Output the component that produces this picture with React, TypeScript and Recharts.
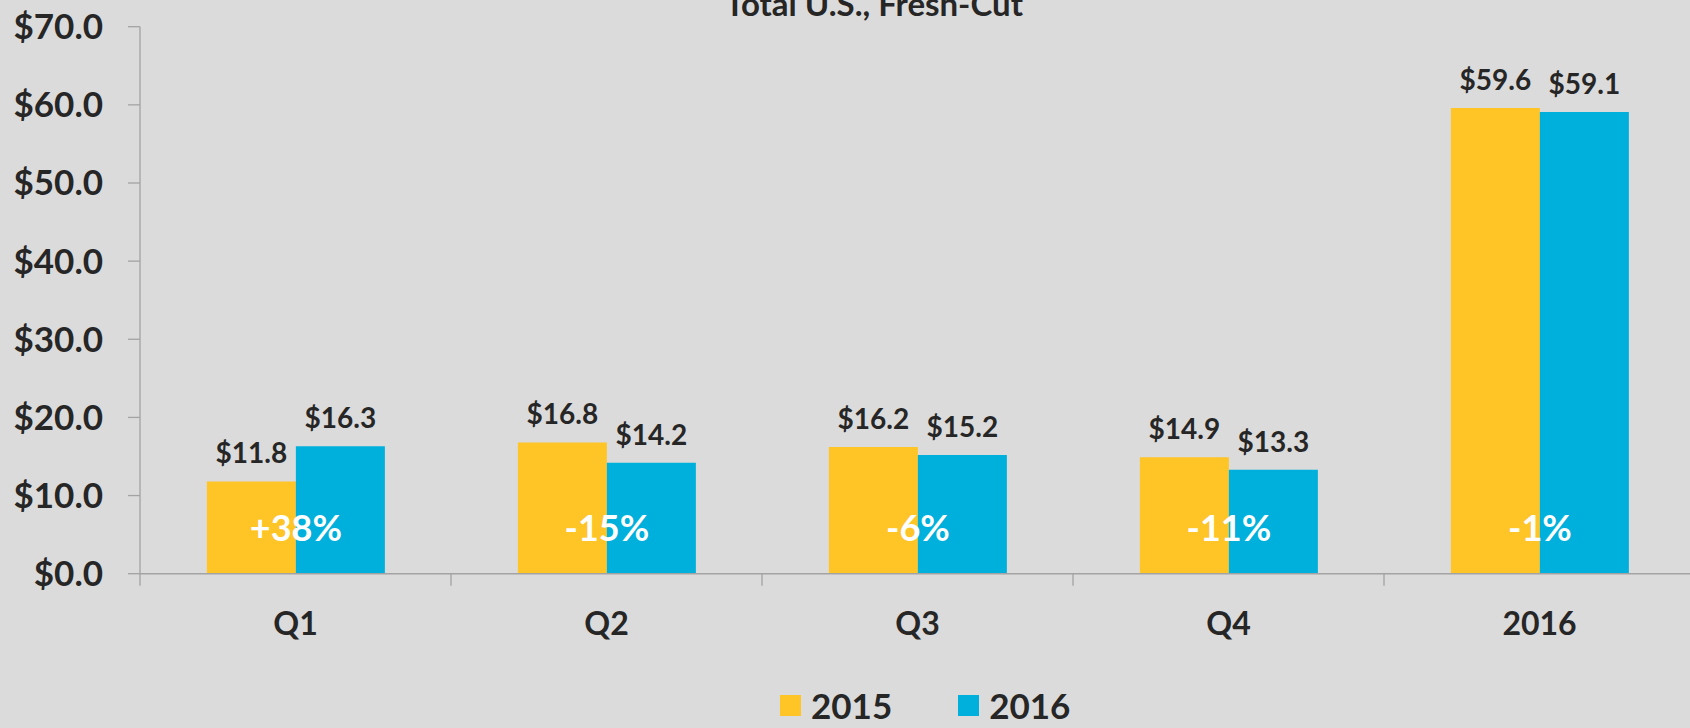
import React from 'react';
import { BarChart, Bar, XAxis, YAxis, LabelList } from 'recharts';

const categories = ['Q1', 'Q2', 'Q3', 'Q4', '2016'];
const series2015 = [11.8, 16.8, 16.2, 14.9, 59.6];
const series2016 = [16.3, 14.2, 15.2, 13.3, 59.1];
const changeLabels = ['+38%', '-15%', '-6%', '-11%', '-1%'];
const yTicks = [0, 10, 20, 30, 40, 50, 60, 70];
const seriesNames = ['2015', '2016'];
const title = 'Total U.S., Fresh-Cut';

const YELLOW = '#FFC425';
const BLUE = '#00B0DC';
const BG = '#DBDBDB';
const TEXT = '#262626';
const AXIS = '#A3A3A3';
const FONT = 'Lato, "Open Sans", sans-serif';

const data = categories.map((c, i) => ({
  name: c,
  y2015: series2015[i],
  y2016: series2016[i],
  change: changeLabels[i],
}));

const CatTick = (props: any) => {
  const { x, y, payload, index } = props;
  const half = payload && payload.offset ? payload.offset : 0;
  return (
    <g>
      <line x1={x - half} x2={x - half} y1={y} y2={y + 12} stroke={AXIS} strokeWidth={1.3} />
      {index === categories.length - 1 && (
        <line x1={x + half} x2={x + half} y1={y} y2={y + 12} stroke={AXIS} strokeWidth={1.3} />
      )}
      <text x={x} y={y + 61} textAnchor="middle" fill={TEXT} fontFamily={FONT} fontWeight={700} fontSize={32}>
        {payload.value}
      </text>
    </g>
  );
};

const ChangeLabel = (props: any) => {
  const { x, y, height, index } = props;
  return (
    <text
      x={x}
      y={y + height - 47}
      textAnchor="middle"
      dominantBaseline="central"
      fill="#FFFFFF"
      fontFamily={FONT}
      fontWeight={700}
      fontSize={36}
    >
      {changeLabels[index]}
    </text>
  );
};

export default function App() {
  return (
    <div
      style={{
        position: 'absolute',
        left: 0,
        top: 0,
        width: 1690,
        height: 728,
        overflow: 'hidden',
        background: BG,
        fontFamily: FONT,
      }}
    >
      <BarChart
        width={1700}
        height={728}
        data={data}
        margin={{ top: 26.7, right: 5, bottom: 84.3, left: 0 }}
        barCategoryGap="21.5%"
        barGap={0}
      >
        <XAxis
          dataKey="name"
          height={70}
          tickSize={0}
          tickMargin={0}
          tickLine={false}
          axisLine={{ stroke: AXIS, strokeWidth: 1.5 }}
          tick={<CatTick />}
          interval={0}
        />
        <YAxis
          width={140}
          domain={[0, 70]}
          ticks={yTicks}
          interval={0}
          tickSize={12}
          tickMargin={25}
          axisLine={{ stroke: AXIS, strokeWidth: 1.3 }}
          tickLine={{ stroke: AXIS, strokeWidth: 1.3 }}
          tick={{ fill: TEXT, fontFamily: FONT, fontWeight: 700, fontSize: 35 }}
          tickFormatter={(v: number) => `$${v.toFixed(1)}`}
        />
        <Bar dataKey="y2015" fill={YELLOW} isAnimationActive={false}>
          <LabelList
            dataKey="y2015"
            position="top"
            offset={18}
            formatter={(v: any) => `$${Number(v).toFixed(1)}`}
            style={{ fill: TEXT, fontFamily: FONT, fontWeight: 700, fontSize: 28 }}
          />
        </Bar>
        <Bar dataKey="y2016" fill={BLUE} isAnimationActive={false}>
          <LabelList
            dataKey="y2016"
            position="top"
            offset={18}
            formatter={(v: any) => `$${Number(v).toFixed(1)}`}
            style={{ fill: TEXT, fontFamily: FONT, fontWeight: 700, fontSize: 28 }}
          />
          <LabelList dataKey="change" content={<ChangeLabel />} />
        </Bar>
      </BarChart>
      <div
        style={{
          position: 'absolute',
          left: 874,
          top: -13.3,
          transform: 'translateX(-50%)',
          whiteSpace: 'nowrap',
          fontSize: 33,
          lineHeight: '33px',
          fontWeight: 700,
          color: TEXT,
        }}
      >
        {title}
      </div>
      <div
        style={{
          position: 'absolute',
          left: 780,
          top: 688,
          display: 'flex',
          alignItems: 'center',
          height: 35,
          fontSize: 35,
          lineHeight: '35px',
          fontWeight: 700,
          color: TEXT,
        }}
      >
        {seriesNames.map((n, i) => (
          <div key={n} style={{ display: 'flex', alignItems: 'center', marginRight: i === 0 ? 66 : 0 }}>
            <div style={{ width: 21, height: 21, background: i === 0 ? YELLOW : BLUE, marginRight: 10 }} />
            <span>{n}</span>
          </div>
        ))}
      </div>
    </div>
  );
}
